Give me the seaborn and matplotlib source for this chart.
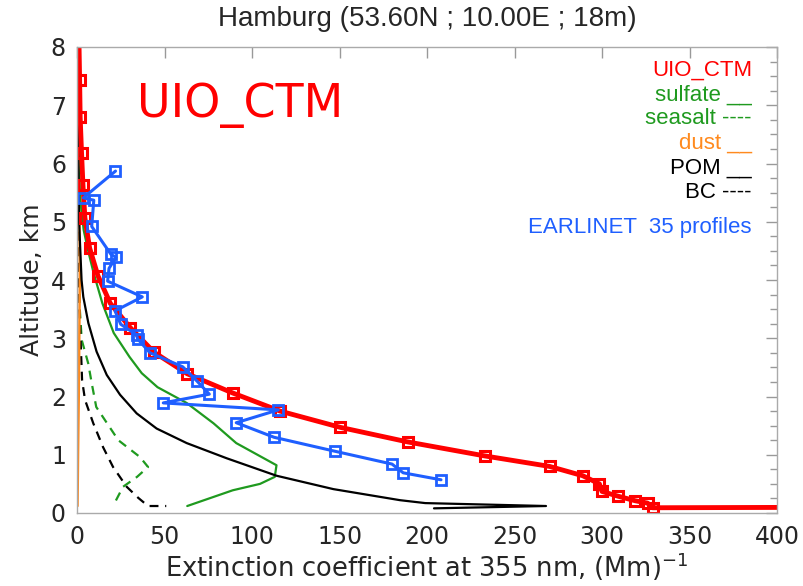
import numpy as np
import pandas as pd
import matplotlib
matplotlib.use("Agg")
import matplotlib.pyplot as plt
import seaborn as sns

# ---- model profile (UIO_CTM total extinction), altitude in km ----
ctm_alt = [8.3, 7.43, 6.80, 6.18, 5.63, 5.07, 4.55, 4.07, 3.60, 3.18, 2.76, 2.39,
           2.06, 1.75, 1.47, 1.22, 0.98, 0.80, 0.64, 0.50, 0.37, 0.29, 0.21,
           0.17, 0.09, 0.145]
ctm_ext = [1.0, 1.5, 1.8, 2.6, 3.4, 4.5, 7.2, 12.0, 19.0, 30.5, 44.0, 63.0,
           89.0, 116.0, 150.5, 189.0, 233.0, 270.0, 289.0, 298.5, 300.0, 309.0,
           319.0, 326.0, 329.0, 1000.0]

# ---- EARLINET mean profile (35 profiles) ----
obs_alt = [5.87, 5.41, 5.37, 4.92, 4.44, 4.39, 4.20, 3.98, 3.71, 3.47, 3.24,
           3.06, 2.99, 2.75, 2.51, 2.27, 2.04, 1.89, 1.77, 1.55, 1.30, 1.06,
           0.84, 0.69, 0.57]
obs_ext = [22.0, 3.6, 9.6, 8.4, 19.4, 22.3, 18.3, 17.5, 37.3, 21.7, 25.0,
           34.0, 34.6, 41.7, 60.4, 68.4, 75.6, 49.3, 115.0, 91.0, 112.6, 147.4,
           180.0, 186.4, 208.0]

# ---- model components ----
sulf_alt = [8.3, 7.0, 6.0, 5.4, 4.86, 4.51, 4.12, 3.60, 3.09, 2.68, 2.40,
            2.16, 1.89, 1.54, 1.20, 0.82, 0.62, 0.50, 0.39, 0.12]
sulf_ext = [0.4, 0.6, 1.0, 1.8, 3.8, 6.3, 9.5, 14.5, 21.0, 30.0, 37.0,
            46.0, 62.6, 78.0, 91.0, 114.0, 113.0, 104.6, 89.0, 63.0]

salt_alt = [8.3, 6.0, 4.5, 3.5, 2.97, 2.57, 2.23, 1.82, 1.25, 0.96, 0.79,
            0.62, 0.45, 0.12]
salt_ext = [0.2, 0.4, 0.8, 1.6, 2.7, 6.4, 8.4, 11.0, 23.6, 36.0, 40.6,
            34.3, 26.3, 20.6]

dust_alt = [8.3, 6.0, 4.0, 2.0, 1.0, 0.12]
dust_ext = [0.5, 1.2, 1.6, 1.0, 0.6, 0.3]

pom_alt = [8.3, 6.0, 5.0, 4.0, 3.71, 3.26, 2.77, 2.37, 2.03, 1.71, 1.45,
           1.20, 0.94, 0.64, 0.41, 0.22, 0.17, 0.12, 0.08]
pom_ext = [0.5, 0.8, 1.2, 2.6, 3.6, 6.5, 11.2, 17.0, 24.6, 34.1, 45.5,
           62.7, 85.5, 114.0, 146.5, 184.6, 199.0, 268.0, 204.0]

bc_alt = [8.3, 5.0, 3.5, 2.28, 1.94, 1.54, 1.13, 0.79, 0.45, 0.26, 0.12, 0.12]
bc_ext = [0.3, 0.6, 1.4, 2.9, 4.6, 9.3, 14.9, 20.6, 28.4, 35.0, 40.6, 51.0]

RED = "#ff0000"
GREEN = "#1f9a1f"
ORANGE = "#ff8a1e"
BLUE = "#1f5fff"

sns.set_style("white")
plt.rcParams["font.family"] = ["DejaVu Sans"]

fig = plt.figure(figsize=(8.04, 5.86), dpi=100)
ax = fig.add_axes([77 / 804, 1 - 513 / 586, 700 / 804, 466 / 586])


def draw(alts, exts, **kw):
    df = pd.DataFrame({"ext": exts, "alt": alts})
    sns.lineplot(data=df, x="ext", y="alt", sort=False, estimator=None,
                 ax=ax, **kw)


draw(salt_alt, salt_ext, color=GREEN, linewidth=1.6, linestyle=(0, (4, 3)))
draw(bc_alt, bc_ext, color="black", linewidth=1.6, linestyle=(0, (4, 3)))
draw(dust_alt, dust_ext, color=ORANGE, linewidth=1.8)
draw(sulf_alt, sulf_ext, color=GREEN, linewidth=1.6)
draw(pom_alt, pom_ext, color="black", linewidth=1.6)
draw(ctm_alt, ctm_ext, color=RED, linewidth=3.5, marker="s", markersize=7.5,
     markerfacecolor="none", markeredgecolor=RED, markeredgewidth=2.2)
draw(obs_alt, obs_ext, color=BLUE, linewidth=2.2, marker="s", markersize=7.5,
     markerfacecolor="none", markeredgecolor=BLUE, markeredgewidth=2.0)

ax.set_xlim(0, 400)
ax.set_ylim(0, 8)
ax.set_xticks(np.arange(0, 401, 50))
ax.set_yticks(np.arange(0, 9, 1))
ax.set_yticks(np.arange(0, 8.01, 0.25), minor=True)
ax.tick_params(axis="both", which="both", direction="in", top=True,
               right=True, color="#999999", labelsize=17)
ax.tick_params(axis="both", which="major", length=8, width=1)
ax.tick_params(axis="y", which="minor", length=5, width=1)
ax.tick_params(axis="x", pad=9)
ax.tick_params(axis="y", pad=8)
for sp in ax.spines.values():
    sp.set_color("#aaaaaa")
    sp.set_linewidth(1.0)

ax.set_xlabel("Extinction coefficient at 355 nm, (Mm)$^{-1}$", fontsize=18.5,
              labelpad=1)
ax.set_ylabel("Altitude, km", fontsize=18, labelpad=5)

fig.text(427 / 804, 1 - 19 / 586, "Hamburg (53.60N ; 10.00E ; 18m)",
         family="Liberation Sans", fontsize=20, ha="center", va="center")

fig.text(137 / 804, 1 - 117 / 586, "UIO_CTM", color=RED, fontsize=33,
         family="DejaVu Sans", ha="left", va="baseline")

legend_rows = [("UIO_CTM", RED, 70), ("sulfate __", GREEN, 95),
               ("seasalt ----", GREEN, 119), ("dust __", ORANGE, 143),
               ("POM __", "black", 168), ("BC ----", "black", 192),
               ("EARLINET  35 profiles", BLUE, 228)]
for txt, col, ypx in legend_rows:
    fig.text(752 / 804, 1 - ypx / 586, txt, color=col, fontsize=16,
             family="Liberation Sans", ha="right", va="center")

fig.savefig("out.png", dpi=100)
